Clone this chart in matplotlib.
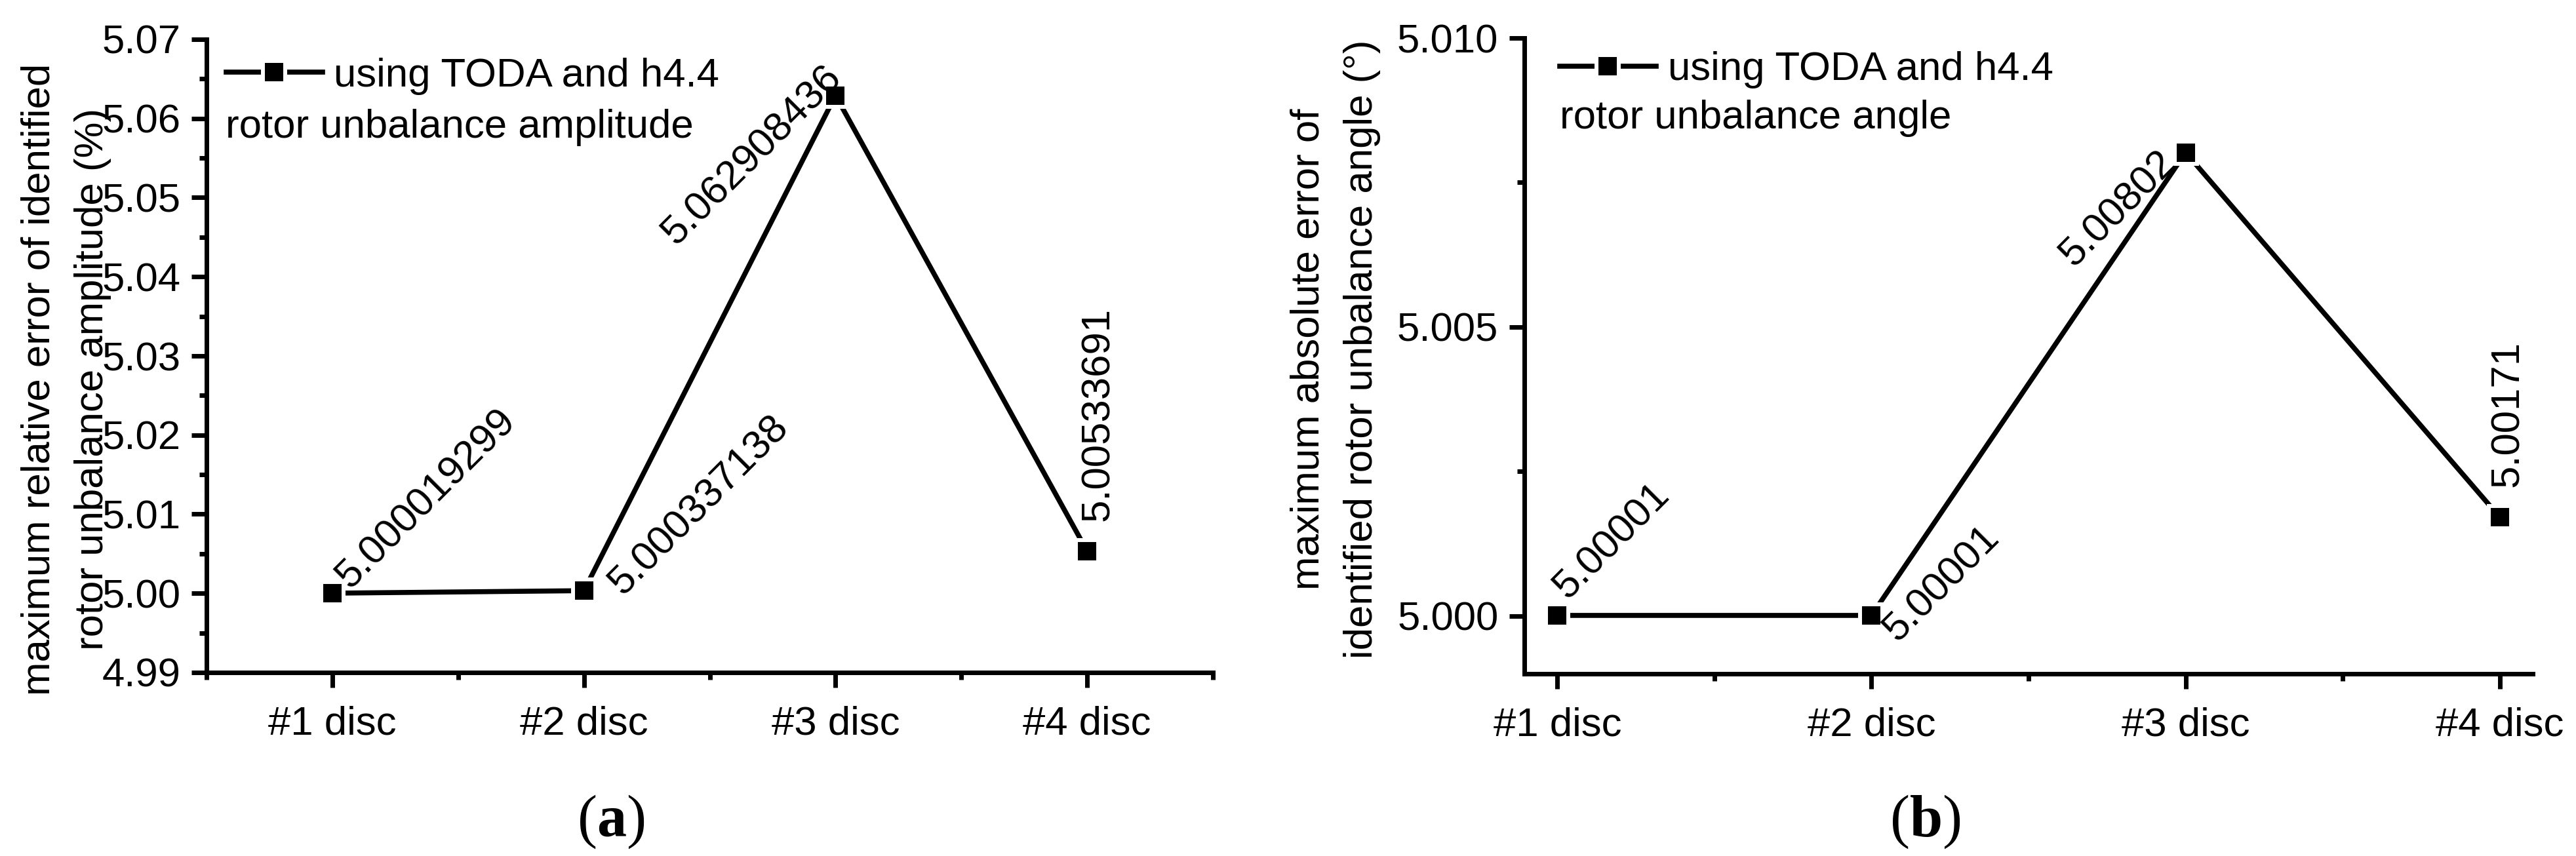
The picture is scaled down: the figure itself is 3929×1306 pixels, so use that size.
import matplotlib
matplotlib.use("Agg")
import matplotlib.pyplot as plt
from matplotlib.ticker import FixedLocator, MultipleLocator, FormatStrFormatter
from matplotlib.lines import Line2D

plt.rcParams['font.family'] = ['Liberation Sans', 'DejaVu Sans']
plt.rcParams['mathtext.fontset'] = 'custom'
plt.rcParams['mathtext.rm'] = 'Liberation Serif'
plt.rcParams['mathtext.bf'] = 'Liberation Serif:bold'

# ---- data ----
categories = ['#1 disc', '#2 disc', '#3 disc', '#4 disc']
x_pos = [1, 2, 3, 4]
amp_err = [5.000019299, 5.000337138, 5.062908436, 5.00533691]
amp_labels = ['5.000019299', '5.000337138', '5.062908436', '5.00533691']
ang_err = [5.00001, 5.00001, 5.00802, 5.00171]
ang_labels = ['5.00001', '5.00001', '5.00802', '5.00171']
legend_label = 'using TODA and h4.4'
amp_note = 'rotor unbalance amplitude'
ang_note = 'rotor unbalance angle'
amp_ylabel = 'maximum relative error of identified\nrotor unbalance amplitude (%)'
ang_ylabel = 'maximum absolute error of\nidentified rotor unbalance angle (\u00b0)'

FS = 44.5
W, H = 3929, 1306
fig = plt.figure(figsize=(W / 100, H / 100), dpi=100)

def px_axes(l, r, t, b):
    return [l / W, (H - b) / H, (r - l) / W, (b - t) / H]

ax1 = fig.add_axes(px_axes(315, 1850, 60, 1026))
ax2 = fig.add_axes(px_axes(2325, 3863, 58, 1028))

line_kw = dict(color='black', lw=5.5, marker='s', markersize=25,
               markerfacecolor='black', markeredgecolor='white',
               markeredgewidth=4.3, solid_joinstyle='miter')

def style(ax, xlim, ylim, ymajor, yminor, fmt, xminor):
    ax.set_xlim(*xlim)
    ax.set_ylim(*ylim)
    for s in ['top', 'right']:
        ax.spines[s].set_visible(False)
    for s in ['left', 'bottom']:
        ax.spines[s].set_linewidth(5)
    ax.set_xticks(x_pos)
    ax.set_xticklabels(categories)
    ax.xaxis.set_minor_locator(FixedLocator(xminor))
    ax.yaxis.set_major_locator(MultipleLocator(ymajor))
    ax.yaxis.set_minor_locator(MultipleLocator(yminor))
    ax.yaxis.set_major_formatter(FormatStrFormatter(fmt))
    ax.tick_params(which='major', direction='out', length=16.5, width=5,
                   labelsize=FS)
    ax.tick_params(which='minor', direction='out', length=8, width=5)
    ax.tick_params(axis='y', which='major', pad=12)
    ax.tick_params(axis='x', which='major', pad=20)

# ---- panel (a) ----
ln1, = ax1.plot(x_pos, amp_err, **line_kw)
style(ax1, (0.5, 4.5), (4.99, 5.07), 0.01, 0.005, '%.2f',
      [0.5, 1.5, 2.5, 3.5, 4.5])
ax1.set_ylabel(amp_ylabel, fontsize=FS, linespacing=1.55)
ax1.yaxis.set_label_coords(-0.0945, 0.463)

amp_offsets = [(27, 5), (60, -8), (12, 25), (33, 46)]
amp_rot = [45, 45, 45, 90]
amp_ha = ['left', 'left', 'right', 'left']
for xv, yv, lab, off, rot, ha in zip(x_pos, amp_err, amp_labels, amp_offsets, amp_rot, amp_ha):
    ax1.annotate(lab, (xv, yv), xytext=off, textcoords='offset pixels',
                 rotation=rot, rotation_mode='anchor', ha=ha, va='baseline',
                 fontsize=FS)

ax1.legend([ln1], [legend_label], loc='upper left', bbox_to_anchor=(0.0195, 0.971),
           frameon=False, borderpad=0, borderaxespad=0, handlelength=2.38,
           handletextpad=0.28, fontsize=FS)
ax1.text(0.019, 0.8447, amp_note, transform=ax1.transAxes, fontsize=FS,
         ha='left', va='baseline')

# ---- panel (b) ----
ln2, = ax2.plot(x_pos, ang_err, **line_kw)
style(ax2, (0.895, 4.105), (4.999, 5.010), 0.005, 0.0025, '%.3f',
      [1.5, 2.5, 3.5])
ax2.set_ylabel(ang_ylabel, fontsize=FS, linespacing=1.55)
ax2.yaxis.set_label_coords(-0.1424, 0.511)

ang_offsets = [(16, 23), (40, -42), (-13, -18), (28, 46)]
ang_rot = [45, 45, 45, 90]
ang_ha = ['left', 'left', 'right', 'left']
for xv, yv, lab, off, rot, ha in zip(x_pos, ang_err, ang_labels, ang_offsets, ang_rot, ang_ha):
    ax2.annotate(lab, (xv, yv), xytext=off, textcoords='offset pixels',
                 rotation=rot, rotation_mode='anchor', ha=ha, va='baseline',
                 fontsize=FS)

ax2.legend([ln2], [legend_label], loc='upper left', bbox_to_anchor=(0.035, 0.979),
           frameon=False, borderpad=0, borderaxespad=0, handlelength=2.38,
           handletextpad=0.3, fontsize=FS)
ax2.text(0.035, 0.8577, ang_note, transform=ax2.transAxes, fontsize=FS,
         ha='left', va='baseline')

# ---- captions ----
fig.text(932 / W, 30 / H, r'($\mathbf{a}$)', fontsize=65, family='Liberation Serif',
         ha='center', va='baseline')
fig.text(2936 / W, 30 / H, r'($\mathbf{b}$)', fontsize=65, family='Liberation Serif',
         ha='center', va='baseline')

fig.savefig('out.png', dpi=100)
